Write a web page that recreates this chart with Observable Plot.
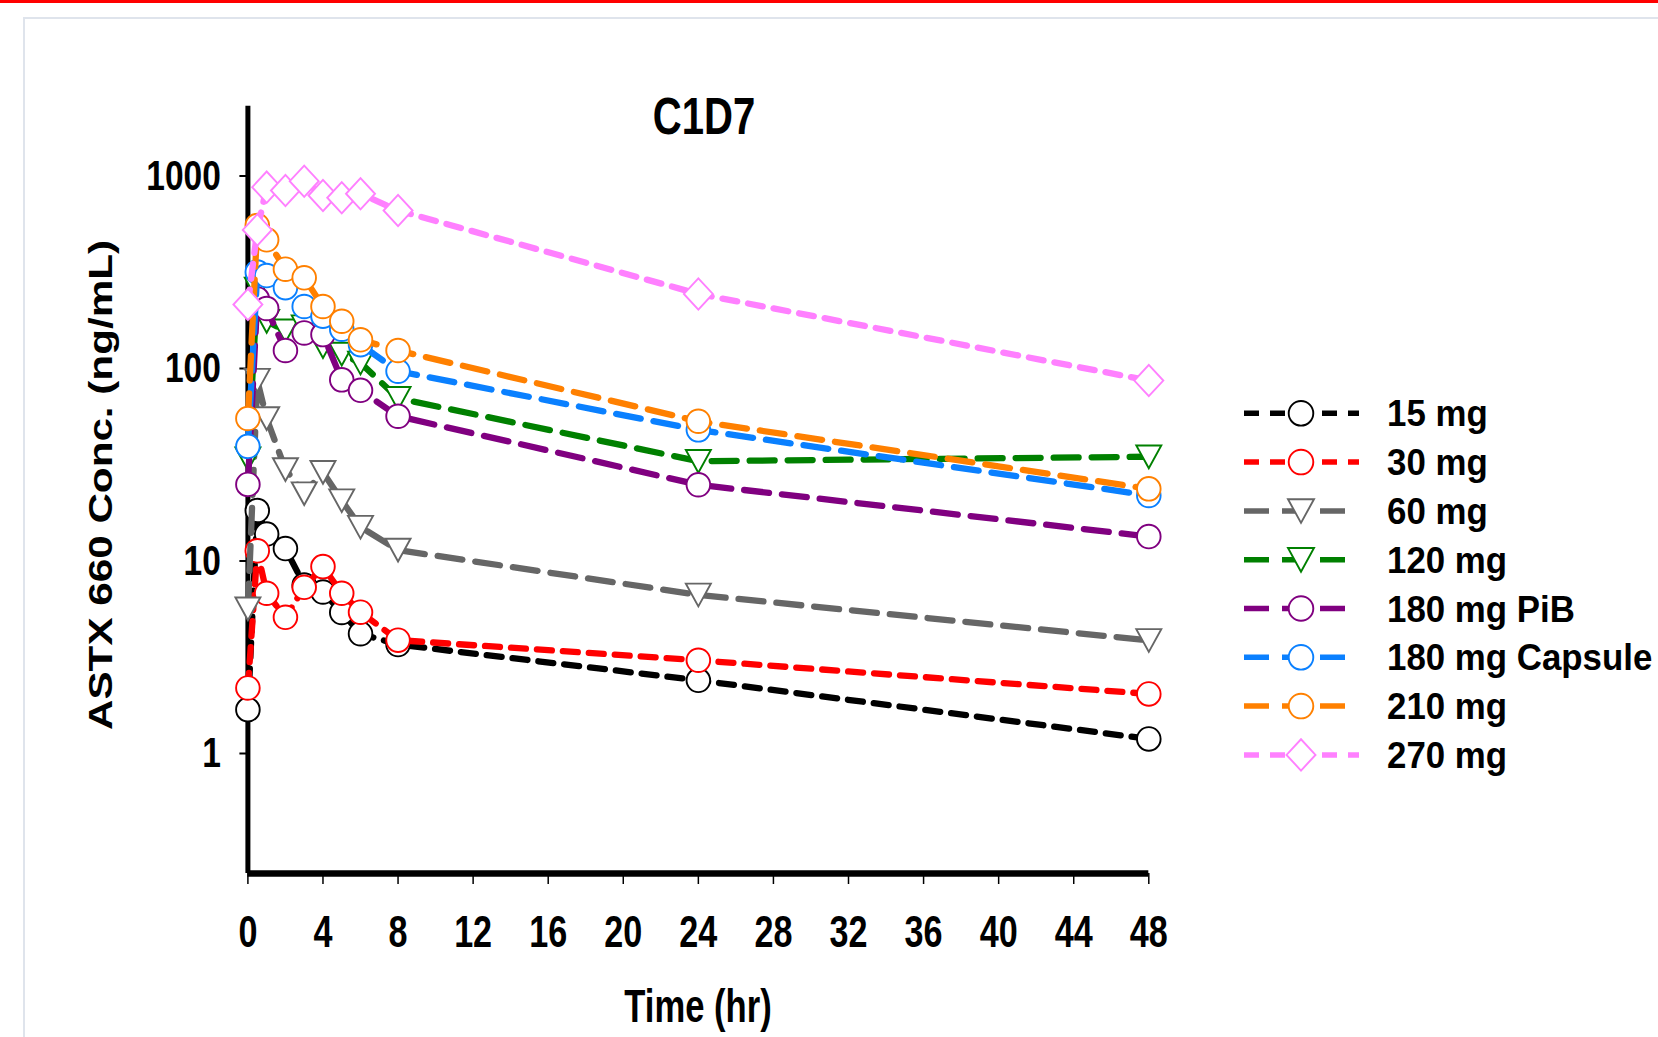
<!DOCTYPE html>
<html><head><meta charset="utf-8">
<script src="https://cdn.jsdelivr.net/npm/d3@7"></script>
<script src="https://cdn.jsdelivr.net/npm/@observablehq/plot@0.6"></script>
<style>
html,body{margin:0;padding:0;background:#fff;}
#page{position:relative;width:1658px;height:1037px;overflow:hidden;background:#fff;}
#redbar{position:absolute;left:0;top:0;width:1658px;height:3px;background:#ff0000;}
#panel{position:absolute;left:23px;top:17px;width:1650px;height:1040px;border-left:2px solid #dfe4ec;border-top:2px solid #dfe4ec;}
#chart{position:absolute;left:0;top:0;}
</style></head>
<body><div id="page"><div id="redbar"></div><div id="panel"></div><div id="chart"></div></div>
<script>
// ---- data ----
const times = [0, 0.5, 1, 2, 3, 4, 5, 6, 8, 24, 48];
const doses = ["15 mg", "30 mg", "60 mg", "120 mg", "180 mg PiB", "180 mg Capsule", "210 mg", "270 mg"];
const conc15mg  = [1.69, 18.3, 13.8, 11.6, 7.5, 6.9, 5.4, 4.19, 3.68, 2.40, 1.19];
const conc30mg  = [2.19, 11.3, 6.8, 5.1, 7.3, 9.35, 6.8, 5.42, 3.88, 3.05, 2.04];
const conc60mg  = [5.65, 87, 55, 29.9, 22.4, 28.9, 20.6, 15.0, 11.4, 6.67, 3.87];
const conc120mg = [34, 259, 176, 157, 165, 130, 119, 107, 70, 33, 34.8];
const conc180PiB = [25, 230, 205, 124, 153, 150, 87.3, 77, 56.5, 24.9, 13.4];
const conc180Cap = [39.4, 317, 304, 263, 210, 187, 160, 133, 96.8, 48, 21.9];
const conc210mg = [55, 553, 466, 328, 296, 210, 176, 141, 124, 53.2, 23.7];
const conc270mg = [215, 525, 875, 841, 940, 792, 771, 809, 662, 244, 86.6];
const seriesValues = [conc15mg, conc30mg, conc60mg, conc120mg, conc180PiB, conc180Cap, conc210mg, conc270mg];
const xTicks = [0, 4, 8, 12, 16, 20, 24, 28, 32, 36, 40, 44, 48];
const yTicks = [1, 10, 100, 1000];
const titleText = "C1D7";
const xLabel = "Time (hr)";
const yLabel = "ASTX 660 Conc. (ng/mL)";

// ---- styles ----
const colors = ["#000000", "#ff0000", "#666666", "#008000", "#800080", "#0a80ff", "#ff8000", "#ff80ff"];
const dashes = ["15,11", "15,11", "25,13", "25,13", "25,13", "25,13", "25,13", "15,11"];
const markerKinds = ["circle", "circle", "tri", "tri", "circle", "circle", "circle", "diamond"];

const triDown = {draw(ctx, size) { const r = Math.sqrt(size / Math.PI);
  ctx.moveTo(-r, -0.9 * r); ctx.lineTo(r, -0.9 * r); ctx.lineTo(0, 0.92 * r); ctx.closePath(); }};
const diamond = {draw(ctx, size) { const r = Math.sqrt(size / Math.PI);
  ctx.moveTo(0, -1.08 * r); ctx.lineTo(r, 0); ctx.lineTo(0, 1.08 * r); ctx.lineTo(-r, 0); ctx.closePath(); }};
const symFor = k => k === "tri" ? triDown : k === "diamond" ? diamond : "circle";
const rFor = k => k === "tri" ? 12.5 : k === "diamond" ? 14.5 : 11.8;

const FONT = "'Liberation Sans', Arial, Helvetica, sans-serif";
const W = 1658, H = 1037;
const yMin = 0.238, yMax = 2305;

const marks = [
  Plot.ruleX([0], {stroke: "#000", strokeWidth: 5}),
  Plot.ruleY([yMin], {stroke: "#000", strokeWidth: 6.5}),
  Plot.axisX({ticks: xTicks, tickSize: 11, tickPadding: 31, fontSize: 45, fontWeight: "bold",
    strokeWidth: 1.5, label: null, tickFormat: d => String(d)}),
  Plot.axisY({ticks: yTicks, tickSize: 8, tickPadding: 19, fontSize: 43, fontWeight: "bold",
    strokeWidth: 2, label: null, tickFormat: d => String(d)})
];
doses.forEach((dose, i) => {
  const rows = times.map((t, j) => ({dose, t, c: seriesValues[i][j]}));
  marks.push(Plot.line(rows, {x: "t", y: "c", stroke: colors[i], strokeWidth: 6.3, strokeDasharray: dashes[i]}));
  marks.push(Plot.dot(rows, {x: "t", y: "c", symbol: symFor(markerKinds[i]), r: rFor(markerKinds[i]),
    stroke: colors[i], fill: "white", strokeWidth: 1.9}));
});

const svg = Plot.plot({
  width: W, height: H,
  marginLeft: 247.4, marginRight: W - 1148.3, marginTop: 105.7, marginBottom: H - 873,
  style: {fontFamily: FONT, background: "transparent", overflow: "visible", color: "#000"},
  x: {domain: [0, 48]},
  y: {type: "log", domain: [yMin, yMax]},
  marks
});
document.getElementById("chart").appendChild(svg);

const NS = "http://www.w3.org/2000/svg";
function squeeze(el, k) {
  const L = el.getComputedTextLength();
  el.setAttribute("textLength", (L * k).toFixed(1));
  el.setAttribute("lengthAdjust", "spacingAndGlyphs");
}
function addText(parent, str, attrs) {
  const t = document.createElementNS(NS, "text");
  t.textContent = str;
  for (const [a, v] of Object.entries(attrs)) t.setAttribute(a, v);
  parent.appendChild(t);
  return t;
}
svg.querySelectorAll('g[aria-label="x-axis tick label"] text').forEach(t => squeeze(t, 0.76));
svg.querySelectorAll('g[aria-label="y-axis tick label"] text').forEach(t => squeeze(t, 0.78));

const over = document.createElementNS(NS, "g");
over.setAttribute("font-family", FONT);
over.setAttribute("font-weight", "bold");
over.setAttribute("fill", "#000");
svg.appendChild(over);

squeeze(addText(over, titleText, {x: 704, y: 134, "text-anchor": "middle", "font-size": 52}), 0.77);
squeeze(addText(over, xLabel, {x: 698, y: 1022, "text-anchor": "middle", "font-size": 46}), 0.752);
const yl = addText(over, yLabel, {transform: "translate(112,485) rotate(-90)", "text-anchor": "middle", "font-size": 34});
yl.setAttribute("textLength", 490); yl.setAttribute("lengthAdjust", "spacingAndGlyphs");

// legend
const lg = document.createElementNS(NS, "g");
over.appendChild(lg);
doses.forEach((dose, i) => {
  const y = 413.3 + i * 48.8;
  const longDash = dashes[i] === "25,13";
  const ln = document.createElementNS(NS, "line");
  ln.setAttribute("x1", 1244); ln.setAttribute("x2", longDash ? 1346 : 1359);
  ln.setAttribute("y1", y); ln.setAttribute("y2", y);
  ln.setAttribute("stroke", colors[i]); ln.setAttribute("stroke-width", 5.5);
  ln.setAttribute("stroke-dasharray", dashes[i]);
  lg.appendChild(ln);
  const k = markerKinds[i];
  if (k === "circle") {
    const c = document.createElementNS(NS, "circle");
    c.setAttribute("cx", 1301); c.setAttribute("cy", y); c.setAttribute("r", 12.3);
    c.setAttribute("fill", "white"); c.setAttribute("stroke", colors[i]); c.setAttribute("stroke-width", 1.9);
    lg.appendChild(c);
  } else {
    const p = document.createElementNS(NS, "path");
    const r = k === "tri" ? 13 : 14.5;
    p.setAttribute("d", d3.symbol(k === "tri" ? triDown : diamond, Math.PI * r * r)());
    p.setAttribute("transform", `translate(1301,${y})`);
    p.setAttribute("fill", "white"); p.setAttribute("stroke", colors[i]); p.setAttribute("stroke-width", 1.9);
    lg.appendChild(p);
  }
  const tg = document.createElementNS(NS, "g");
  tg.setAttribute("transform", `translate(1387,${y + 13.1}) scale(0.955,1)`);
  lg.appendChild(tg);
  addText(tg, dose, {x: 0, y: 0, "font-size": 36.5, "text-anchor": "start"});
});
</script>
</body></html>
